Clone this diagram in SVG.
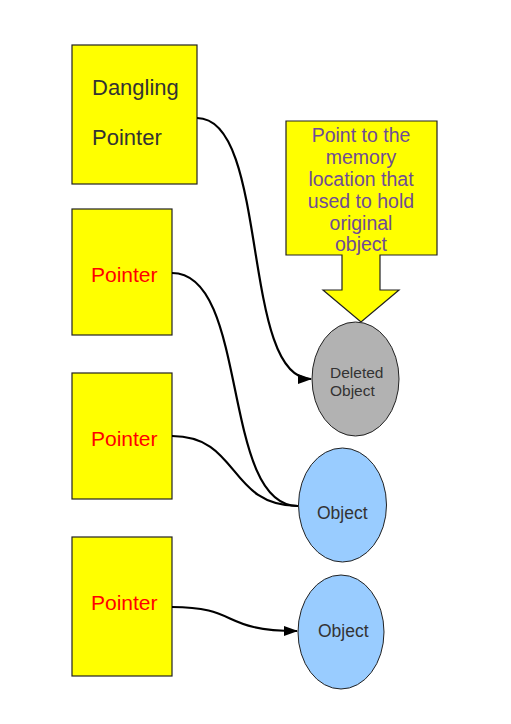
<svg xmlns="http://www.w3.org/2000/svg" width="511" height="724" viewBox="0 0 511 724">
<style>
.box{fill:#ffff00;stroke:#222;stroke-width:1.2}
.t{font-family:"Liberation Sans",Arial,sans-serif}
.dark{fill:#333333}
.red{fill:#ff0000;font-size:21px}
.call{fill:#6f4c96;font-size:19.5px;text-anchor:middle}
.con{fill:none;stroke:#000;stroke-width:2.2}
.ell{stroke:#222;stroke-width:1}
</style>
<defs>
<marker id="arr" markerWidth="14" markerHeight="10" refX="13" refY="5" orient="auto" markerUnits="userSpaceOnUse">
<path d="M0,0 L14,5 L0,10 Z" fill="#000"/>
</marker>
</defs>
<rect width="511" height="724" fill="#fff"/>
<g id="dangling">
<rect class="box" x="72" y="45" width="125" height="139"/>
<text class="t dark" x="92" y="95" font-size="22">Dangling</text>
<text class="t dark" x="92" y="145" font-size="22">Pointer</text>
</g>
<g id="pointer1">
<rect class="box" x="72" y="209" width="100" height="126"/>
<text class="t red" x="91" y="282">Pointer</text>
</g>
<g id="pointer2">
<rect class="box" x="72" y="373" width="100" height="126"/>
<text class="t red" x="91" y="446">Pointer</text>
</g>
<g id="pointer3">
<rect class="box" x="72" y="537" width="100" height="139"/>
<text class="t red" x="91" y="610">Pointer</text>
</g>
<g id="callout">
<polygon class="box" stroke-width="1" points="286,121 437,121 437,255 380,255 380,290 399,290 361,322 323,290 342,290 342,255 286,255"/>
<text class="t call" x="361" y="142">Point to the</text>
<text class="t call" x="361" y="164">memory</text>
<text class="t call" x="361" y="186">location that</text>
<text class="t call" x="361" y="208">used to hold</text>
<text class="t call" x="361" y="229.5">original</text>
<text class="t call" x="361" y="250.5">object</text>
</g>
<g id="deleted">
<ellipse class="ell" cx="355.5" cy="379" rx="43.5" ry="57" fill="#b2b2b2"/>
<text class="t dark" x="330" y="378" font-size="15.5">Deleted</text>
<text class="t dark" x="330" y="396" font-size="15.5">Object</text>
</g>
<g id="object1">
<ellipse class="ell" cx="342.5" cy="505" rx="44" ry="57" fill="#99ccff"/>
<text class="t dark" x="317" y="519" font-size="17.5">Object</text>
</g>
<g id="object2">
<ellipse class="ell" cx="341" cy="632" rx="43" ry="57" fill="#99ccff"/>
<text class="t dark" x="318" y="637" font-size="17.5">Object</text>
</g>
<g id="connectors">
<path class="con" d="M197,118 C270,118 240,379 311,379" marker-end="url(#arr)"/>
<path class="con" d="M172,273 C250,273 220,506 298,506"/>
<path class="con" d="M172,436 C240,436 228,506 298,506"/>
<path class="con" d="M172,607 C240,607 220,631 297,631" marker-end="url(#arr)"/>
</g>
</svg>
